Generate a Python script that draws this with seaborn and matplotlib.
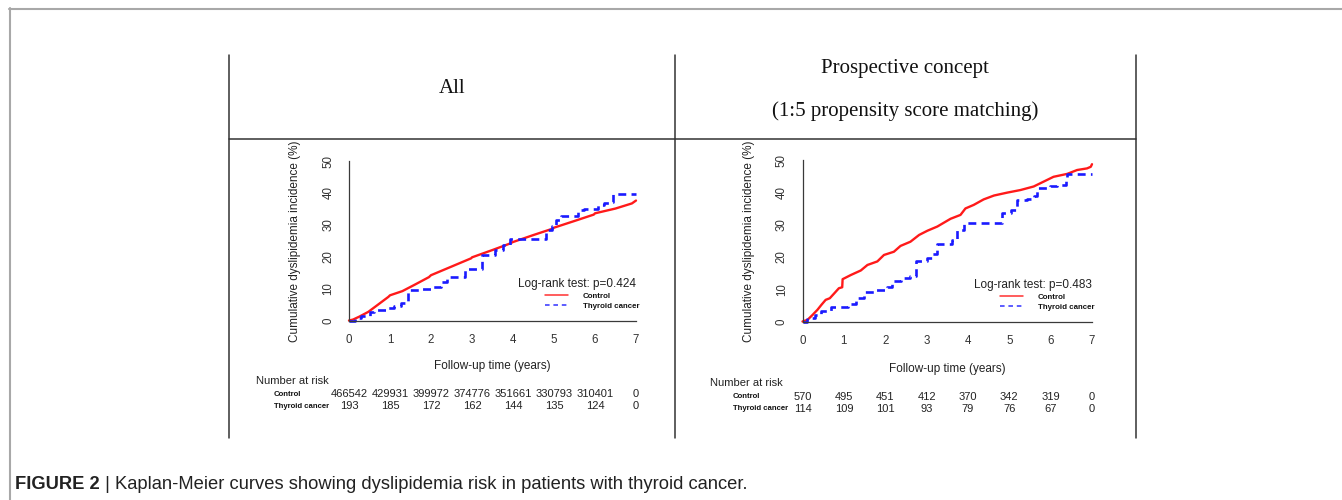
import matplotlib
matplotlib.use("Agg")
import matplotlib.pyplot as plt
import seaborn as sns
import pandas as pd
from matplotlib.lines import Line2D
from matplotlib.transforms import blended_transform_factory

# ---------------- data ----------------
x_ticks = [0, 1, 2, 3, 4, 5, 6, 7]
y_ticks = [0, 10, 20, 30, 40, 50]
groups = ["Control", "Thyroid cancer"]

all_ctrl_t = [0, 0.1, 0.25, 0.47, 0.7, 0.96, 1.0, 1.3, 1.6, 1.95, 2.0, 2.5, 2.98, 3.0, 3.5, 3.9,
              4.0, 4.5, 4.97, 5.0, 5.5, 5.97, 6.0, 6.5, 6.9, 7.0]
all_ctrl_y = [0, 0.3, 1.2, 2.7, 4.9, 7.4, 7.9, 9.2, 11.2, 13.6, 14.2, 16.9, 19.5, 19.8, 22.1, 24.0,
              24.6, 26.8, 28.8, 29.1, 31.2, 33.2, 33.6, 35.1, 36.7, 37.6]
all_thy_t = [0, 0.15, 0.3, 0.5, 0.6, 0.9, 1.1, 1.28, 1.44, 1.7, 2.0, 2.25, 2.4, 2.82, 3.03, 3.24,
             3.55, 3.75, 3.92, 4.2, 4.7, 4.8, 4.95, 5.05, 5.17, 5.5, 5.58, 5.74, 6.07, 6.23, 6.35,
             6.43, 7.0]
all_thy_y = [0, 0.7, 1.5, 2.6, 3.4, 4.0, 4.6, 5.5, 9.5, 10.0, 10.6, 12.0, 13.6, 16.2, 16.2, 20.5,
             22.0, 23.6, 25.4, 25.7, 25.7, 28.3, 29.5, 31.4, 32.7, 32.7, 34.5, 35.1, 36.1, 36.8, 37.2,
             39.8, 39.8]

psm_ctrl_t = [0, 0.12, 0.24, 0.36, 0.46, 0.56, 0.66, 0.76, 0.88, 0.96, 0.97, 1.17, 1.41, 1.57,
              1.81, 1.97, 2.21, 2.37, 2.61, 2.82, 3.02, 3.26, 3.58, 3.82, 3.94, 4.14, 4.38, 4.63,
              4.95, 5.27, 5.59, 5.83, 6.07, 6.4, 6.64, 6.88, 6.97, 7.0]
psm_ctrl_y = [0, 0.5, 2.0, 3.6, 5.2, 6.7, 7.2, 8.6, 10.3, 10.6, 13.1, 14.4, 15.8, 17.5,
              18.6, 20.6, 21.6, 23.4, 24.7, 26.8, 28.1, 29.4, 31.8, 33.0, 35.0, 36.1, 37.8, 39.0,
              39.9, 40.7, 41.8, 43.3, 44.8, 45.7, 46.9, 47.4, 47.9, 48.7]
psm_thy_t = [0, 0.12, 0.3, 0.44, 0.68, 1.09, 1.29, 1.49, 1.73, 2.05, 2.17, 2.37, 2.61, 2.74, 3.02,
             3.14, 3.26, 3.62, 3.74, 3.9, 4.63, 4.83, 5.03, 5.19, 5.43, 5.59, 5.67, 5.99, 6.15, 6.36,
             6.4, 7.0]
psm_thy_y = [0, 1.0, 2.0, 3.1, 4.6, 5.4, 7.2, 9.0, 9.8, 10.8, 12.4, 13.6, 14.1, 18.6, 19.6,
             20.8, 24.0, 25.3, 28.4, 30.6, 30.6, 33.5, 34.5, 37.6, 38.0, 38.7, 41.2, 41.8, 42.3, 43.8,
             45.6, 45.6]

all_risk_ctrl = ["466542", "429931", "399972", "374776", "351661", "330793", "310401", "0"]
all_risk_thy = ["193", "185", "172", "162", "144", "135", "124", "0"]
psm_risk_ctrl = ["570", "495", "451", "412", "370", "342", "319", "0"]
psm_risk_thy = ["114", "109", "101", "93", "79", "76", "67", "0"]

pvals = ["Log-rank test: p=0.424", "Log-rank test: p=0.483"]
title_all = "All"
title_psm_1 = "Prospective concept"
title_psm_2 = "(1:5 propensity score matching)"
caption_bold = "FIGURE 2"
caption_rest = " | Kaplan-Meier curves showing dyslipidemia risk in patients with thyroid cancer."

# ---------------- style ----------------
sns.set_style("white")
plt.rcParams["font.family"] = ["Liberation Sans", "DejaVu Sans"]

W, H = 1342, 500
fig = plt.figure(figsize=(W / 100, H / 100), dpi=100)
fig.patch.set_facecolor("white")


def fx(x):
    return x / W


def fy(y):
    return 1 - y / H


# page frame (grey)
fig.add_artist(Line2D([fx(9), fx(1342)], [fy(8.5), fy(8.5)], color="#a8a8a8", lw=1.5))
fig.add_artist(Line2D([fx(9.5), fx(9.5)], [fy(8), fy(500)], color="#a8a8a8", lw=1.5))

# table grid
tcol = "#333333"
for xv in [228.5, 674.5, 1135.5]:
    fig.add_artist(Line2D([fx(xv), fx(xv)], [fy(55), fy(438)], color=tcol, lw=1.1))
fig.add_artist(Line2D([fx(228.5), fx(1135.5)], [fy(138.5), fy(138.5)], color=tcol, lw=1.1))

# titles
fig.text(fx(452), fy(89), title_all, family="Liberation Serif", fontsize=15,
         ha="center", va="center", color="#111111")
fig.text(fx(905), fy(69), title_psm_1, family="Liberation Serif", fontsize=15,
         ha="center", va="center", color="#111111")
fig.text(fx(905), fy(111), title_psm_2, family="Liberation Serif",
         fontsize=15, ha="center", va="center", color="#111111")

panels = [
    dict(box=(349, 636, 161, 320.5), ct=all_ctrl_t, cy=all_ctrl_y, tt=all_thy_t, ty=all_thy_y,
         rc=all_risk_ctrl, rt=all_risk_thy, p=pvals[0], ylab_x=301, ptxt_y=284,
         leg=(545, 292), xlab_y=360, nar=(256, 381), lab_x=274, rows=(394, 406)),
    dict(box=(802.5, 1092, 160, 321.5), ct=psm_ctrl_t, cy=psm_ctrl_y, tt=psm_thy_t, ty=psm_thy_y,
         rc=psm_risk_ctrl, rt=psm_risk_thy, p=pvals[1], ylab_x=755, ptxt_y=285,
         leg=(1000, 293), xlab_y=363, nar=(710, 383), lab_x=733, rows=(397, 409)),
]

axcol = "#3a3a3a"
for P in panels:
    x0, x1, y0, y1 = P["box"]
    ax = fig.add_axes([fx(x0), fy(y1), (x1 - x0) / W, (y1 - y0) / H])
    ax.set_facecolor("none")

    dc = pd.DataFrame({"t": P["ct"], "v": P["cy"]})
    dt = pd.DataFrame({"t": P["tt"], "v": P["ty"]})
    sns.lineplot(data=dc, x="t", y="v", ax=ax, color="#ff1a1a", lw=1.7,
                 estimator=None, sort=False, legend=False)
    sns.lineplot(data=dt, x="t", y="v", ax=ax, color="#1a1aff", lw=1.9,
                 drawstyle="steps-post", estimator=None, sort=False, legend=False,
                 dashes=False, linestyle=(0, (3.0, 2.0)))
    for ln in ax.get_lines():
        ln.set_clip_on(False)

    ax.set_xlim(0, 7)
    ax.set_ylim(0, 50)
    ax.set_xticks(x_ticks)
    ax.set_yticks(y_ticks)
    for s in ["top", "right"]:
        ax.spines[s].set_visible(False)
    for s in ["left", "bottom"]:
        ax.spines[s].set_color(axcol)
        ax.spines[s].set_linewidth(0.9)
    ax.tick_params(axis="both", direction="out", length=5, width=0.9, color=axcol,
                   labelsize=8.3, labelcolor="#333333", pad=5)
    ax.tick_params(axis="y", labelrotation=90, pad=5.5)
    for lab in ax.get_yticklabels():
        lab.set_va("center")

    ax.set_xlabel("Follow-up time (years)", fontsize=8.5, color="#222222")
    ax.xaxis.set_label_coords(0.5, (y1 - P["xlab_y"]) / (y1 - y0))
    ax.set_ylabel("Cumulative dyslipidemia incidence (%)", fontsize=8.5, color="#222222")
    ax.yaxis.set_label_coords((P["ylab_x"] - x0) / (x1 - x0), 0.5)

    # log-rank text
    ax.text(1.0, (y1 - P["ptxt_y"]) / (y1 - y0), P["p"], transform=ax.transAxes,
            ha="right", va="center", fontsize=8.5, color="#222222")

    # legend
    handles = [Line2D([], [], color="#ff3030", lw=1.1),
               Line2D([], [], color="#3030ff", lw=1.1, linestyle=(0, (3, 2.5)))]
    lx, ly = P["leg"]
    leg = ax.legend(handles, groups, loc="upper left", bbox_to_anchor=(fx(lx), fy(ly)),
                    bbox_transform=fig.transFigure, frameon=False, borderpad=0,
                    borderaxespad=0, handlelength=2.9, handletextpad=1.9,
                    labelspacing=0.4, prop=dict(size=5.7, weight="bold"))
    for t in leg.get_texts():
        t.set_color("#111111")

    # number at risk table
    fig.text(fx(P["nar"][0]), fy(P["nar"][1]), "Number at risk", fontsize=8,
             ha="left", va="center", color="#222222")
    fig.text(fx(P["lab_x"]), fy(P["rows"][0]), groups[0], fontsize=5.6, weight="bold",
             ha="left", va="center", color="#111111")
    fig.text(fx(P["lab_x"]), fy(P["rows"][1]), groups[1], fontsize=5.6, weight="bold",
             ha="left", va="center", color="#111111")
    tr = blended_transform_factory(ax.transData, fig.transFigure)
    for xv, a, b in zip(x_ticks, P["rc"], P["rt"]):
        ax.text(xv, fy(P["rows"][0]), a, transform=tr, ha="center", va="center",
                fontsize=8, color="#222222", clip_on=False)
        ax.text(xv, fy(P["rows"][1]), b, transform=tr, ha="center", va="center",
                fontsize=8, color="#222222", clip_on=False)

# caption
t1 = fig.text(fx(15), fy(493), caption_bold, fontsize=13.2, weight="bold",
              ha="left", va="bottom", color="#222222")
fig.add_artist(plt.Annotation(caption_rest, xy=(1, 0), xycoords=t1, fontsize=13.2,
                              ha="left", va="bottom", color="#222222"))

fig.savefig("out.png", dpi=100, facecolor="white")
